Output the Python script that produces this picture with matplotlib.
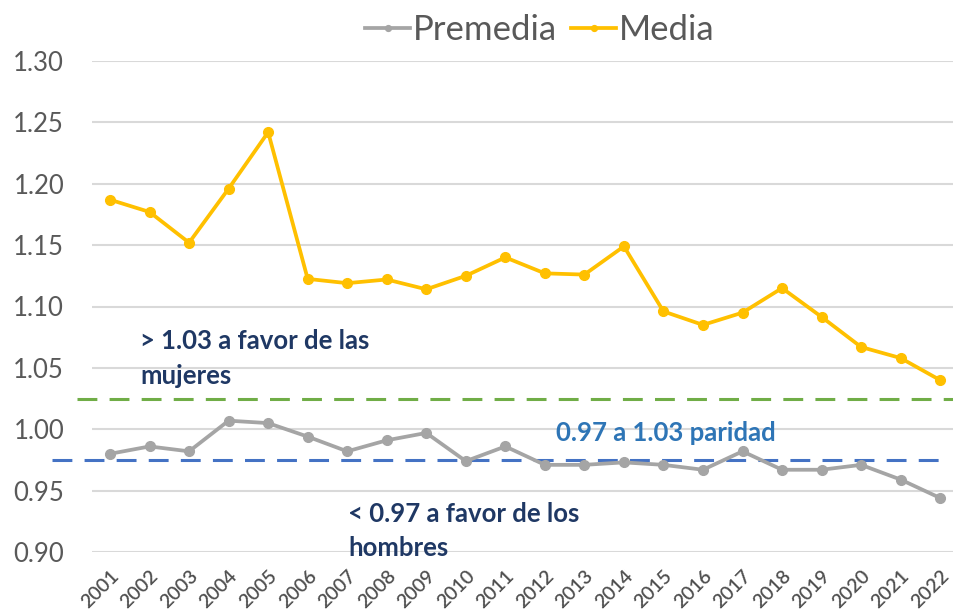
import matplotlib
matplotlib.use("Agg")
import matplotlib.pyplot as plt

years = [str(y) for y in range(2001, 2023)]
premedia = [0.980, 0.986, 0.982, 1.007, 1.005, 0.994, 0.982, 0.991, 0.997, 0.974,
            0.986, 0.971, 0.971, 0.973, 0.971, 0.967, 0.982, 0.967, 0.967, 0.971,
            0.959, 0.944]
media = [1.187, 1.177, 1.152, 1.196, 1.242, 1.1225, 1.119, 1.122, 1.114, 1.125,
         1.140, 1.127, 1.126, 1.149, 1.096, 1.085, 1.095, 1.115, 1.0915, 1.067,
         1.058, 1.040]
upper_limit = 1.025
lower_limit = 0.975
yticks = [0.90, 0.95, 1.00, 1.05, 1.10, 1.15, 1.20, 1.25, 1.30]

plt.rcParams['font.family'] = ['Lato', 'DejaVu Sans']

W, H = 954, 613
fig = plt.figure(figsize=(W / 100, H / 100), dpi=100)
ax = fig.add_axes([92 / W, 1 - 552 / H, (954 - 92) / W, (552 - 61) / H])

x = list(range(len(years)))
ax.plot(x, premedia, color='#A5A5A5', lw=2.7, marker='o', ms=7, label='Premedia', zorder=4)
ax.plot(x, media, color='#FFC000', lw=2.7, marker='o', ms=7, label='Media', zorder=4)

ax.axhline(upper_limit, xmin=-0.017, xmax=1.0, color='#70AD47', lw=2.2,
           dashes=(6.5, 4), clip_on=False, zorder=3)
ax.axhline(lower_limit, xmin=-0.046, xmax=0.99, color='#4472C4', lw=2.2,
           dashes=(6.5, 4), clip_on=False, zorder=3)

ax.set_ylim(0.90, 1.30)
ax.set_xlim(-0.456, 21.35)
ax.set_yticks(yticks)
ax.set_yticklabels([f"{v:.2f}" for v in yticks], fontsize=18.5, color='#595959')
ax.set_xticks(x)
ax.set_xticklabels(years, rotation=45, ha='right', rotation_mode='anchor',
                   fontsize=14, color='#505050', fontweight='semibold')
ax.tick_params(axis='both', length=0)
ax.tick_params(axis='y', pad=20)
ax.tick_params(axis='x', pad=11)
ax.grid(axis='y', color='#D9D9D9', lw=1.5)
ax.set_axisbelow(True)
for s in ax.spines.values():
    s.set_visible(False)

navy = '#1F3864'
fs_ann = 18.5
ax.text(0.76, 1.072, '> 1.03 a favor de las', fontsize=fs_ann, fontweight='bold', color=navy, va='center')
ax.text(0.76, 1.043, 'mujeres', fontsize=fs_ann, fontweight='bold', color=navy, va='center')
ax.text(11.27, 0.997, '0.97 a 1.03 paridad', fontsize=fs_ann, fontweight='bold', color='#2E75B6', va='center')
ax.text(6.03, 0.931, '< 0.97 a favor de los', fontsize=fs_ann, fontweight='bold', color=navy, va='center')
ax.text(6.03, 0.903, 'hombres', fontsize=fs_ann, fontweight='bold', color=navy, va='center')

leg = fig.legend(loc='center', bbox_to_anchor=(540 / W, 1 - 30 / H), ncol=2, frameon=False,
                 fontsize=25, handlelength=1.3, handletextpad=0.08, columnspacing=0.4,
                 markerscale=0.6)
for t in leg.get_texts():
    t.set_color('#595959')

fig.savefig('out.png', dpi=100)
